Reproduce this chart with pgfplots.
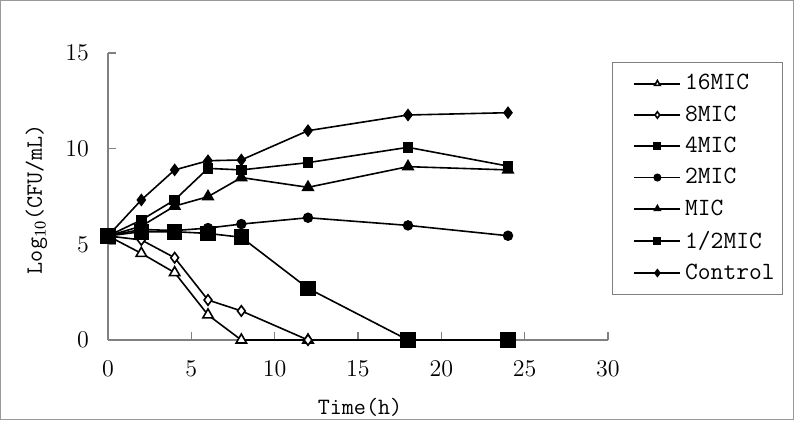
\documentclass[border=0pt]{standalone}
\usepackage{fontspec}
\setmainfont{Liberation Serif}
\usepackage{pgfplots}
\pgfplotsset{compat=1.18}
\begin{document}
\begin{tikzpicture}
\path[use as bounding box] (0,0) rectangle (397pt,210pt);
\draw[gray!80, line width=0.6pt] (0.3pt,0.3pt) rectangle (396.7pt,209.7pt);
\begin{axis}[
  at={(54pt,40pt)}, anchor=south west,
  scale only axis, width=250pt, height=143.5pt,
  xmin=0, xmax=30, ymin=0, ymax=15,
  xtick={0,5,...,30}, ytick={0,5,10,15},
  axis x line*=bottom, axis y line*=left,
  axis line style={gray, line width=0.6pt},
  tick style={gray, line width=0.6pt},
  tick align=inside, major tick length=4pt,
  xticklabel style={yshift=-7pt},
  yticklabel style={xshift=-6pt},
  tick label style={font=\fontsize{12.5}{14}\selectfont},
  clip=false,
  xlabel={\ttfamily Time(h)},
  xlabel style={at={(axis description cs:0.504,-0.233)}, anchor=center},
  ylabel={\ttfamily Log$_{\mathrm{10}}$(CFU/mL)},
  ylabel style={at={(axis description cs:-0.143,0.491)}, anchor=center},
  label style={font=\fontsize{11.7}{13}\selectfont},
  legend style={at={(axis description cs:1.008,0.969)}, anchor=north west,
    draw=gray, line width=0.6pt, font=\ttfamily\fontsize{12.4}{13}\selectfont,
    row sep=2.4pt, inner xsep=2pt, inner ysep=4pt, cells={anchor=west}},
  legend image code/.code={
    \path (0pt,0pt);
    \draw[mark repeat=2, mark phase=2, #1, mark size=1.6pt]
      plot coordinates {(8.5pt,0cm) (20pt,0cm) (31.5pt,0cm)};},
  every axis plot/.append style={line width=0.8pt, black},
]
\addplot[mark=triangle*, mark options={fill=white, solid}, mark size=3pt]
  coordinates {(0,5.44)(2,4.53)(4,3.52)(6,1.31)(8,0)(12,0)(18,0)(24,0)};
\addlegendentry{16MIC}
\addplot[mark=diamond*, mark options={fill=white, solid}, mark size=2.6pt]
  coordinates {(0,5.44)(2,5.23)(4,4.30)(6,2.09)(8,1.52)(12,0)(18,0)(24,0)};
\addlegendentry{8MIC}
\addplot[mark=square*, mark options={fill=black}, mark size=3.5pt]
  coordinates {(0,5.44)(2,5.66)(4,5.66)(6,5.57)(8,5.37)(12,2.70)(18,0)(24,0)};
\addlegendentry{4MIC}
\addplot[mark=*, mark options={fill=black}, mark size=2.2pt]
  coordinates {(0,5.44)(2,5.78)(4,5.72)(6,5.85)(8,6.06)(12,6.39)(18,5.99)(24,5.45)};
\addlegendentry{2MIC}
\addplot[mark=triangle*, mark options={fill=black}, mark size=3pt]
  coordinates {(0,5.44)(2,5.95)(4,7.00)(6,7.49)(8,8.49)(12,7.98)(18,9.06)(24,8.89)};
\addlegendentry{MIC}
\addplot[mark=square*, mark options={fill=black}, mark size=2.3pt]
  coordinates {(0,5.44)(2,6.27)(4,7.32)(6,8.97)(8,8.89)(12,9.27)(18,10.07)(24,9.09)};
\addlegendentry{1/2MIC}
\addplot[mark=diamond*, mark options={fill=black}, mark size=2.6pt]
  coordinates {(0,5.44)(2,7.32)(4,8.89)(6,9.37)(8,9.41)(12,10.94)(18,11.76)(24,11.88)};
\addlegendentry{Control}
\end{axis}
\end{tikzpicture}
\end{document}
